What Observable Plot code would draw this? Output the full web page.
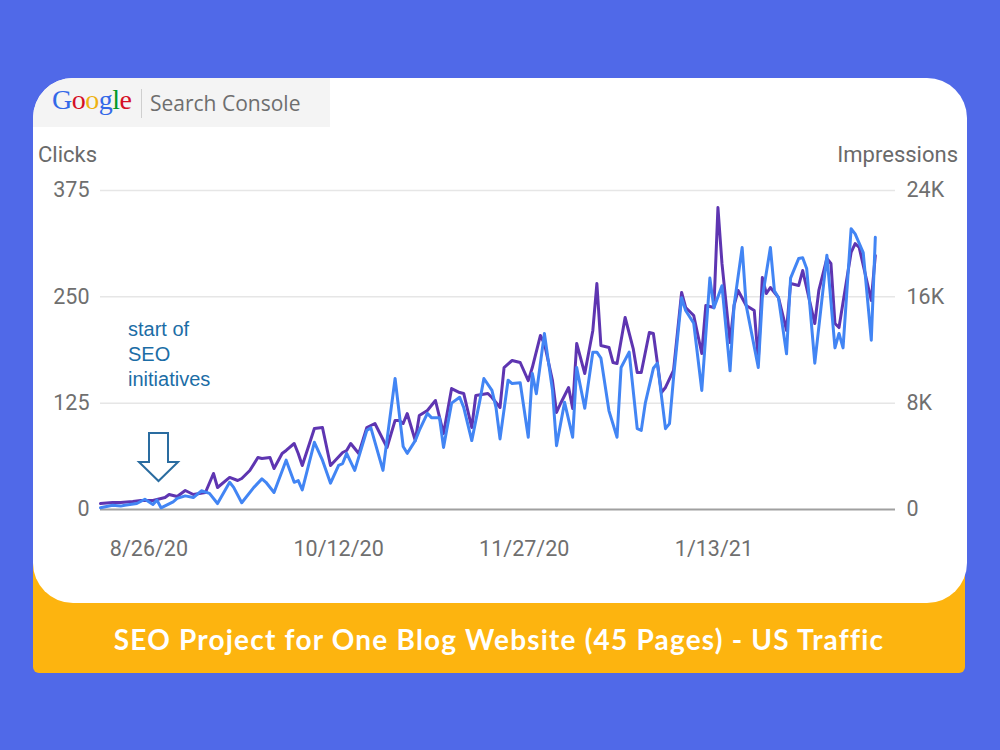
<!DOCTYPE html>
<html>
<head>
<meta charset="utf-8">
<script src="https://cdn.jsdelivr.net/npm/d3@7"></script>
<script src="https://cdn.jsdelivr.net/npm/@observablehq/plot@0.6"></script>
<style>
  html, body { margin: 0; padding: 0; }
  body { width: 1000px; height: 750px; background: #5069E8; position: relative; overflow: hidden; font-family: Roboto, "Open Sans", sans-serif; }
  .abs { position: absolute; }
  #banner { left: 33px; top: 560px; width: 932px; height: 113px; background: #FDB40F; border-radius: 0 0 6px 6px; }
  #bannerText { left: 33px; top: 619px; width: 932px; text-align: center; color: #fff; font-family: Lato, "Open Sans", sans-serif; font-weight: 700; font-size: 28px; letter-spacing: 1.2px; line-height: 40px; }
  #card { left: 33px; top: 78px; width: 934px; height: 525px; background: #fff; border-radius: 40px; overflow: hidden; }
  #logoBox { left: 0; top: 0; width: 297px; height: 49px; background: #f4f4f4; }
  #google { left: 19px; top: 6px; font-family: "Liberation Serif", "DejaVu Serif", serif; font-size: 28px; letter-spacing: -0.5px; }
  #sep { left: 108px; top: 11px; width: 1px; height: 29px; background: #cfcfcf; }
  #sc { left: 117px; top: 11px; font-family: "Open Sans", sans-serif; font-size: 21px; color: #6e6e6e; }
  #chart { left: 0; top: 0; }
  .lbl { color: #6a6a6a; font-size: 22px; font-family: Roboto, sans-serif; }
  #annot { left: 128px; top: 317px; color: #1c6da6; font-family: "Liberation Sans", Arial, sans-serif; font-size: 20px; line-height: 25px; }
</style>
</head>
<body>
<div id="banner" class="abs"></div>
<div id="bannerText" class="abs">SEO Project for One Blog Website (45 Pages) - US Traffic</div>
<div id="card" class="abs">
  <div id="logoBox" class="abs">
    <div id="google" class="abs"><span style="color:#3369E8">G</span><span style="color:#D50F25">o</span><span style="color:#EEB211">o</span><span style="color:#3369E8">g</span><span style="color:#009925">l</span><span style="color:#D50F25">e</span></div>
    <div id="sep" class="abs"></div>
    <div id="sc" class="abs">Search Console</div>
  </div>
</div>
<div id="chart" class="abs"></div>
<div class="abs lbl" style="left:38px; top:142px;">Clicks</div>
<div class="abs lbl" style="right:42px; top:142px;">Impressions</div>
<div id="annot" class="abs">start of<br>SEO<br>initiatives</div>
<svg class="abs" style="left:0;top:0;" width="1000" height="750">
  <polygon points="149,433 168,433 168,462 178,462 158.5,481 139,462 149,462" fill="none" stroke="#2a6ca0" stroke-width="2"/>
</svg>
<script>
// Day offsets are days since 8/26/20
const startDate = new Date(Date.UTC(2020, 7, 26));
const xTickLabels = ["2020-08-26", "2020-10-12", "2020-11-27", "2021-01-13"];
const clickTicks = [0, 125, 250, 375];

const impressionDays = [-12,-9,-7,-4,-2,1,3,4,5,7,8,9,11,14,16,17,20,22,23,25,27,28,30,31,33,34,36,37,38,41,43,45,48,49,50,52,54,56,59,61,62,63,64,66,67,69,71,73,75,77,78,80,81,84,85,87,88,90,92,94,95,97,98,100,101,102,104,105,106,108,110,111,112,114,115,116,118,120,121,122,124,125,127,128,130,132,133,135,137,138,140,141,142,144,145,146,148,150,151,152,153,154,156,158,159,161,162,165,166,168,169,170,171,174,175,176,179,180];
const impressionValues = [450,530,530,600,680,680,830,900,1130,980,1200,1430,1130,1280,2710,1655,2410,2180,2330,2930,3910,3840,3910,3085,4210,4440,4965,4210,3310,6095,6170,3310,4290,4440,4965,4210,6170,6470,4665,6700,6700,6470,7220,5190,7070,7450,8200,5720,9100,8800,8730,6170,8580,8730,8430,7675,10680,11210,11060,9700,10680,13090,12490,9700,7300,7975,9180,7600,12490,10230,13470,17000,12340,12190,11060,10980,14445,12110,10310,10310,13320,13240,8800,9180,10460,16330,15200,14600,11740,15350,15200,22720,18510,12565,15350,16480,15350,14970,11210,17455,16250,16700,15950,13470,17000,16850,17980,13990,16480,18885,18510,13990,13690,19340,20010,19710,15725,19110];

const clickDays = [-12,-9,-7,-6,-3,-1,1,2,3,6,7,9,11,13,15,17,20,21,23,26,28,29,31,34,36,37,38,41,43,45,47,48,49,51,54,55,58,61,63,64,66,67,69,70,72,73,75,77,78,80,82,83,85,86,87,89,90,92,94,95,96,98,100,101,103,105,106,108,110,111,112,114,116,117,119,121,122,123,125,126,128,129,130,132,133,135,137,139,140,142,144,145,147,148,151,152,154,155,156,158,159,161,162,163,165,168,170,171,172,174,175,177,179,180];
const clickValues = [2,5,4,5,7,12,6,11,2,9,13,16,14,22,19,7,32,26,8,26,36,32,20,58,32,34,23,79,58,31,52,54,66,46,93,96,46,154,74,66,81,93,113,108,108,73,125,132,120,81,128,154,140,120,83,152,148,149,85,160,136,207,140,75,126,85,167,119,185,185,178,116,85,167,185,95,93,125,166,172,95,101,155,249,234,219,140,272,237,263,163,240,308,240,167,249,308,257,249,183,272,295,296,283,172,299,190,207,190,330,324,302,199,320];

const toDate = d => d3.utcDay.offset(startDate, d);
const impScale = 375 / 24000; // impressions drawn on the clicks scale
const impressions = impressionDays.map((d, i) => ({date: toDate(d), y: impressionValues[i] * impScale}));
const clicks = clickDays.map((d, i) => ({date: toDate(d), y: clickValues[i]}));

const chart = Plot.plot({
  width: 1000,
  height: 750,
  marginLeft: 100,
  marginRight: 105,
  marginTop: 190,
  marginBottom: 241,
  style: {background: "transparent", fontFamily: "Roboto, sans-serif", fontSize: "21.5px", color: "#6f6f6f"},
  x: {type: "utc", domain: [toDate(-12), toDate(185)]},
  y: {domain: [0, 375]},
  marks: [
    Plot.gridY(clickTicks.filter(t => t > 0), {stroke: "#e6e6e6", strokeOpacity: 1, strokeWidth: 1.5}),
    Plot.ruleY([0], {stroke: "#a0a0a0", strokeWidth: 2}),
    Plot.line(impressions, {x: "date", y: "y", stroke: "#5E35B1", strokeWidth: 3, curve: "linear"}),
    Plot.line(clicks, {x: "date", y: "y", stroke: "#4285F4", strokeWidth: 3, curve: "linear"}),
    Plot.axisY(clickTicks, {anchor: "left", tickSize: 0, tickPadding: 11, label: null, fill: "#6f6f6f"}),
    Plot.axisY(clickTicks, {anchor: "right", tickSize: 0, tickPadding: 11, label: null, fill: "#6f6f6f",
      tickFormat: d => d === 0 ? "0" : (d * 64 / 1000) + "K"}),
    Plot.axisX(xTickLabels.map(s => new Date(s + "T00:00:00Z")), {anchor: "bottom", tickSize: 0, tickPadding: 31, label: null, fill: "#6f6f6f",
      tickFormat: d3.utcFormat("%-m/%-d/%y")})
  ]
});
document.getElementById("chart").appendChild(chart);
</script>
</body>
</html>
